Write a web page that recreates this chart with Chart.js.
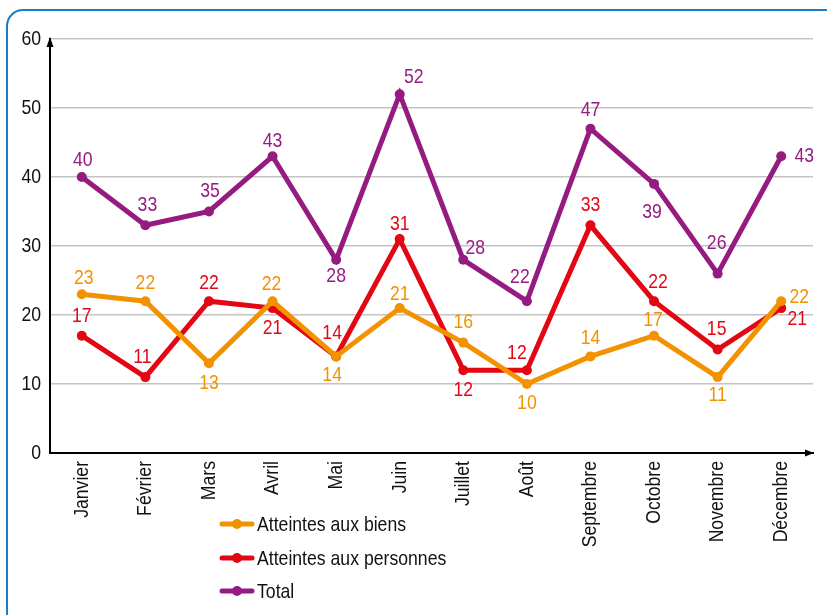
<!DOCTYPE html>
<html><head><meta charset="utf-8">
<script src="https://cdn.jsdelivr.net/npm/chart.js@4/dist/chart.umd.min.js"></script>
<style>html,body{margin:0;padding:0;background:#fff}#wrap{width:827px;height:615px}</style>
</head><body><div id="wrap"><canvas id="c" width="827" height="615"></canvas></div>
<script>
const months = ['Janvier','Février','Mars','Avril','Mai','Juin','Juillet','Août','Septembre','Octobre','Novembre','Décembre'];
const biens = [23,22,13,22,14,21,16,10,14,17,11,22];
const personnes = [17,11,22,21,14,31,12,12,33,22,15,21];
const total = [40,33,35,43,28,52,28,22,47,39,26,43];
const yTicks = [0,10,20,30,40,50,60];

// label offsets (dx, dy) relative to each point
const offBiens = [[2,-16],[0,-18],[0,20],[-1,-17],[-4,19],[0,-14],[0,-20],[0,19],[0,-18],[-1,-15],[0,18],[18,-4]];
const offPers  = [[0,-19],[-3,-20],[0,-18],[0,20],[-4,-23],[0,-15],[0,20],[-10,-17],[0,-20],[4,-19],[-1,-20],[16,11]];
const offTotal = [[1,-17],[2,-20],[1,-20],[0,-15],[0,16],[14,-17],[12,-12],[-7,-24],[0,-18],[-2,28],[-1,-30],[23,0]];

const FONT = "'Liberation Sans Narrow','Arial Narrow','Liberation Sans',Arial,sans-serif";
const SQUEEZE = 0.84;
const C_B = '#f39200', C_P = '#e30613', C_T = '#951b81';

function ds(label, data, color, offs){
  return {label, data, borderColor: color, backgroundColor: color, borderWidth: 5,
    pointRadius: 5, pointHoverRadius: 5, pointBackgroundColor: color, pointBorderWidth: 0,
    tension: 0, labelOffsets: offs};
}

const condensePlugin = {
  id:'condense',
  beforeInit(chart){
    const ctx = chart.ctx;
    const orig = ctx.fillText;
    ctx.fillText = function(text, x, y, maxWidth){
      this.save();
      this.translate(x, y);
      this.scale(SQUEEZE, 1);
      if (maxWidth === undefined) orig.call(this, text, 0, 0);
      else orig.call(this, text, 0, 0, maxWidth / SQUEEZE);
      this.restore();
    };
  }
};

const framePlugin = {
  id:'frame',
  beforeDraw(chart){
    const ctx = chart.ctx;
    ctx.save();
    ctx.strokeStyle = '#1b7cc6'; ctx.lineWidth = 2;
    const x=7, y=10, w=900, h=700, r=16;
    ctx.beginPath();
    ctx.moveTo(x+r,y); ctx.lineTo(x+w,y); ctx.lineTo(x+w,y+h); ctx.lineTo(x,y+h); ctx.lineTo(x,y+r);
    ctx.arcTo(x,y,x+r,y,r); ctx.stroke();
    ctx.restore();
  },
  afterDraw(chart){
    const ctx = chart.ctx, a = chart.chartArea;
    ctx.save();
    ctx.fillStyle = '#000'; ctx.strokeStyle = '#000'; ctx.lineWidth = 2;
    // y arrow
    ctx.beginPath(); ctx.moveTo(a.left, a.top-2); ctx.lineTo(a.left-3.5, a.top+8); ctx.lineTo(a.left+3.5, a.top+8); ctx.closePath(); ctx.fill();
    // x arrow
    ctx.beginPath(); ctx.moveTo(a.right+1, a.bottom); ctx.lineTo(a.right-8, a.bottom-3.5); ctx.lineTo(a.right-8, a.bottom+3.5); ctx.closePath(); ctx.fill();
    // legend
    const lx = 220, ly = [524, 558, 591];
    chart.data.datasets.forEach((d,i)=>{
      ctx.strokeStyle = d.borderColor; ctx.lineWidth = 5; ctx.lineCap='round';
      ctx.beginPath(); ctx.moveTo(lx+2, ly[i]); ctx.lineTo(lx+32, ly[i]); ctx.stroke();
      ctx.fillStyle = d.borderColor;
      ctx.beginPath(); ctx.arc(lx+17, ly[i], 5, 0, Math.PI*2); ctx.fill();
      ctx.fillStyle = '#111'; ctx.font = '21px ' + FONT; ctx.textAlign='left'; ctx.textBaseline='middle';
      ctx.fillText(d.label, lx+37, ly[i]+1);
    });
    ctx.restore();
  },
  afterDatasetsDraw(chart){
    const ctx = chart.ctx;
    ctx.save();
    ctx.font = '21px ' + FONT; ctx.textAlign='center'; ctx.textBaseline='middle';
    chart.data.datasets.forEach((d,i)=>{
      const meta = chart.getDatasetMeta(i);
      ctx.fillStyle = d.borderColor;
      meta.data.forEach((pt,j)=>{
        const o = d.labelOffsets[j];
        ctx.fillText(String(d.data[j]), pt.x+o[0], pt.y+o[1]);
      });
    });
    ctx.restore();
  }
};

new Chart(document.getElementById('c'), {
  type:'line',
  data:{ labels: months, datasets:[
    ds('Atteintes aux biens', biens, C_B, offBiens),
    ds('Atteintes aux personnes', personnes, C_P, offPers),
    ds('Total', total, C_T, offTotal)
  ]},
  options:{
    responsive:false, animation:false, devicePixelRatio:1,
    layout:{padding:{left:0, top:39, right:14, bottom:0}},
    plugins:{legend:{display:false}, tooltip:{enabled:false}},
    scales:{
      x:{ offset:true,
        grid:{display:false, drawTicks:false},
        border:{display:true, color:'#000', width:2},
        ticks:{autoSkip:false, minRotation:90, maxRotation:90, padding:8, color:'#111', font:{family:FONT, size:21}},
        afterFit(s){ s.height = 162; }
      },
      y:{ min:0, max:60,
        afterBuildTicks(s){ s.ticks = yTicks.map(v=>({value:v})); },
        grid:{color:'#c4c4c4', lineWidth:1.5, drawTicks:false},
        border:{display:true, color:'#000', width:2},
        ticks:{padding:9, color:'#111', font:{family:FONT, size:21}},
        afterFit(s){ s.width = 50; }
      }
    }
  },
  plugins:[condensePlugin, framePlugin]
});
</script></body></html>
